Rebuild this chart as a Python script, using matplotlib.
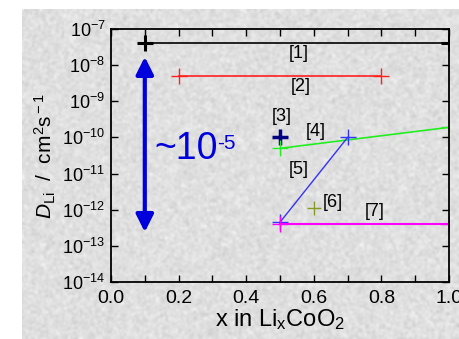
import numpy as np
import matplotlib
matplotlib.use("Agg")
import matplotlib.pyplot as plt

plt.rcParams['font.family'] = ['Liberation Sans', 'DejaVu Sans']
plt.rcParams['mathtext.fontset'] = 'custom'
plt.rcParams['mathtext.rm'] = 'Liberation Sans'
plt.rcParams['mathtext.it'] = 'Liberation Sans:italic'

# literature ranges of D_Li vs x in LixCoO2
x1 = [0.1, 1.0]; d1 = [4e-8, 4e-8]
x2 = [0.2, 0.8]; d2 = [5e-9, 5e-9]
x3 = [0.5];      d3 = [1e-10]
x4 = [0.5, 1.0]; d4 = [5e-11, 1.9e-10]
x5 = [0.5, 0.7]; d5 = [4.5e-13, 1e-10]
x6 = [0.6];      d6 = [1.1e-12]
x7 = [0.5, 1.0]; d7 = [4e-13, 4e-13]

ref_labels = ['[1]', '[2]', '[3]', '[4]', '[5]', '[6]', '[7]']
label_x = [0.556, 0.56, 0.506, 0.607, 0.555, 0.655, 0.78]
label_y = [2.1e-8, 2.5e-9, 3.8e-10, 1.5e-10, 1.3e-11, 1.6e-12, 9e-13]

fig = plt.figure(figsize=(4.59, 3.39), dpi=100)
fig.patch.set_facecolor('white')

# grainy grey backdrop
rng = np.random.default_rng(3)
tex = 0.875 + 0.035 * rng.standard_normal((165, 218))
tex = np.clip(tex, 0, 1)
bg = fig.add_axes([22 / 459, 0, 437 / 459, 330 / 339])
bg.imshow(tex, cmap='gray', vmin=0, vmax=1, aspect='auto', interpolation='bicubic')
bg.axis('off')

ax = fig.add_axes([111 / 459, 1 - 282 / 339, 338 / 459, 253 / 339])
ax.patch.set_alpha(0)

ax.plot(x1, d1, '-', color='black', lw=1.2, marker='+', ms=11, mew=2.2)
ax.plot(x2, d2, '-', color='#ff2020', lw=1.2, marker='+', ms=11, mew=1.0)
ax.plot(x3, d3, ls='none', color='#000080', marker='+', ms=11, mew=2.5)
ax.plot(x4, d4, '-', color='#22ee22', lw=1.2, marker='+', ms=11, mew=1.0)
ax.plot(x5, d5, '-', color='#3333ff', lw=1.0, marker='+', ms=11, mew=1.0)
ax.plot(x6, d6, ls='none', color='#889922', marker='+', ms=10, mew=1.0)
ax.plot(x7, d7, '-', color='#ff00ff', lw=1.5, marker='+', ms=11, mew=1.0)

for lab, lx, ly in zip(ref_labels, label_x, label_y):
    ax.text(lx, ly, lab, fontsize=13, ha='center', va='center')

# span of the reported values
ax.annotate('', xy=(0.1, 1.7e-8), xytext=(0.1, 2.4e-13),
            arrowprops=dict(arrowstyle='<|-|>', color='#0000dd', lw=3,
                            mutation_scale=26, shrinkA=0, shrinkB=0))
t5 = ax.text(0.127, 4.7e-11, '~10', color='#0000dd', fontsize=27,
             ha='left', va='center')
ax.annotate('-5', xy=(1, 0.92), xycoords=t5, color='#0000dd', fontsize=15,
            ha='left', va='top')

ax.set_yscale('log')
ax.set_xlim(0.0, 1.0)
ax.set_ylim(1e-14, 1e-7)
ax.set_xticks([0.0, 0.2, 0.4, 0.6, 0.8, 1.0])
ax.set_xticklabels(['0.0', '0.2', '0.4', '0.6', '0.8', '1.0'])
ax.set_xticks(np.arange(0.1, 1.0, 0.2), minor=True)
ax.set_yticks([1e-14, 1e-13, 1e-12, 1e-11, 1e-10, 1e-9, 1e-8, 1e-7])
ax.tick_params(which='both', direction='in', top=True, right=True)
ax.tick_params(axis='y', labelsize=13, pad=4)
ax.tick_params(axis='x', labelsize=14, pad=6)
ax.tick_params(which='major', length=5, width=1)
ax.tick_params(which='minor', length=3, width=0.8)
ax.tick_params(axis='x', which='minor', length=5, width=1)
for s in ax.spines.values():
    s.set_linewidth(1.3)

ax.set_xlabel(r'x in Li$_{\rm x}$CoO$_{\rm 2}$', fontsize=17, labelpad=0)
ax.set_ylabel(r'$D_{\rm Li}$  /  cm$^{\rm 2}$s$^{\rm -1}$', fontsize=15, labelpad=3)

fig.savefig('out.png', dpi=100)
